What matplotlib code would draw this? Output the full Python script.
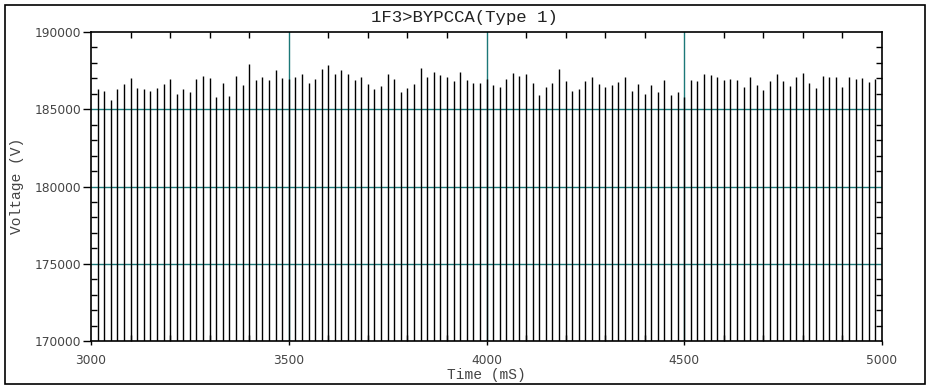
import numpy as np
import matplotlib
matplotlib.use("Agg")
import matplotlib.pyplot as plt
from matplotlib.patches import Rectangle
from matplotlib.ticker import MultipleLocator

# ---- data ----
title = "1F3>BYPCCA(Type 1)"
x_label = "Time (mS)"
y_label = "Voltage (V)"
x_ticks = [3000, 3500, 4000, 4500, 5000]
y_ticks = [170000, 175000, 180000, 185000, 190000]
start_ms = 3000.0
period_ms = 1000.0 / 60.0
peak_volts = [
    186330, 186170, 185610, 186280, 186610, 187000, 186350, 186280, 186170, 186390, 186650, 186930, 186000, 186280, 186130, 186980, 187150,
    187000, 185780, 186720, 185830, 187150, 186540, 187930, 186870, 187090, 186890, 187560, 187020, 186960, 187060, 187280, 186720, 186930,
    187610, 187870, 187260, 187540, 187280, 186890, 187090, 186610, 186330, 186500, 187280, 186960, 186130, 186370, 186650, 187670, 187090,
    187390, 187200, 187060, 186850, 187430, 186910, 186720, 186720, 186930, 186540, 186430, 186960, 187330, 187130, 187260, 186720, 185910,
    186430, 186720, 187590, 186800, 186170, 186280, 186800, 187110, 186650, 186410, 186540, 186780, 187110, 186170, 186630, 185980, 186540,
    186110, 186910, 185930, 186130, 185800, 186870, 186800, 187260, 187220, 187090, 186870, 186980, 186910, 186410, 187090, 186590, 186220,
    186800, 187280, 186850, 186520, 187060, 187330, 186720, 186350, 187150, 187090, 187090, 186410, 187060, 186980, 187040, 186760, 186930,
]
peak_times = start_ms + period_ms * np.arange(1, len(peak_volts) + 1)
trough_volt = 160000

# ---- figure ----
W, H = 933, 392
fig = plt.figure(figsize=(W / 100, H / 100), dpi=100)
fig.patch.set_facecolor("white")

# outer frame
fig.add_artist(Rectangle((5 / W, 1 - 384 / H), 920 / W, 379 / H, transform=fig.transFigure,
                         fill=False, edgecolor="black", linewidth=1.2))

ax = fig.add_axes([91 / W, 1 - 341 / H, (882 - 91) / W, (341 - 32) / H])
ax.set_xlim(3000, 5000)
ax.set_ylim(170000, 190000)

grid_c = "#1c7878"
for gx in x_ticks[1:-1]:
    ax.axvline(gx, color=grid_c, lw=1.0, zorder=1)
for gy in y_ticks[1:-1]:
    ax.axhline(gy, color=grid_c, lw=1.0, zorder=1)

ax.vlines(peak_times, trough_volt, peak_volts, colors="black", linewidth=1.0, zorder=2)

for s in ax.spines.values():
    s.set_color("black")
    s.set_linewidth(1.2)

ax.set_xticks(x_ticks)
ax.set_yticks(y_ticks)
ax.xaxis.set_minor_locator(MultipleLocator(100))
ax.yaxis.set_minor_locator(MultipleLocator(1000))
ax.tick_params(axis="y", which="major", direction="out", length=6, width=1, pad=1,
               labelsize=8.8, labelcolor="#444444", left=True, right=False)
ax.tick_params(axis="x", which="major", direction="out", length=3, width=1, pad=6,
               labelsize=8.8, labelcolor="#444444", bottom=True, top=False)
ax.tick_params(which="minor", direction="in", length=4, width=1,
               left=True, right=True, top=True, bottom=True)
for lab in ax.get_xticklabels() + ax.get_yticklabels():
    lab.set_family("DejaVu Sans")

fig.text(464 / W, 1 - 17.5 / H, title, ha="center", va="center",
         family="Liberation Mono", fontsize=12.5, color="#222222")
fig.text(486 / W, 1 - 375 / H, x_label, ha="center", va="center",
         family="Liberation Mono", fontsize=10.5, color="#444444")
fig.text(17 / W, 1 - 186 / H, y_label, ha="center", va="center", rotation=90,
         family="Liberation Mono", fontsize=10.5, color="#444444")

fig.savefig("out.png", dpi=100)
